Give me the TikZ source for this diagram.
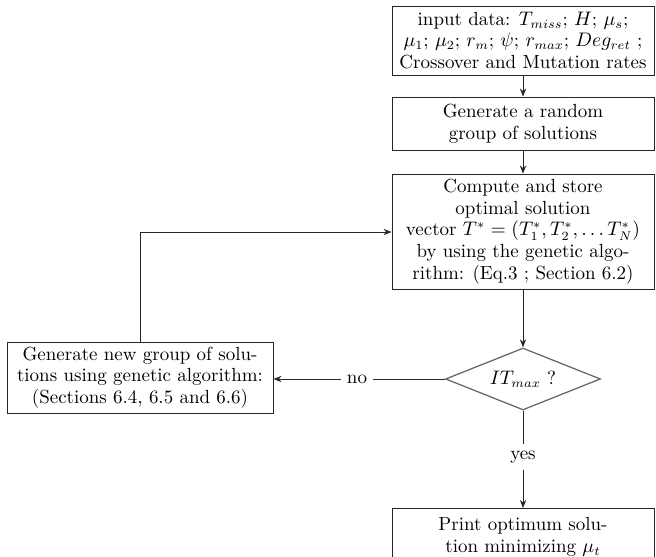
\documentclass[tikz,border=0pt]{standalone}
\usetikzlibrary{shapes.geometric,arrows.meta}
\begin{document}
\begin{tikzpicture}[x=0.5587pt,y=-0.5587pt,
  every node/.style={font=\fontsize{10.6pt}{12.1pt}\selectfont},
  box/.style={draw=black!85,line width=0.5pt,rectangle,align=center,inner sep=0pt},
  dia/.style={draw=black!60,line width=0.7pt,diamond,aspect=2.5,inner sep=0pt},
  conn/.style={draw=black!85,line width=0.5pt,-{Stealth[length=4.5pt,width=3.5pt]}},
  plain/.style={draw=black!85,line width=0.5pt}]
\useasboundingbox (0,0) rectangle (656,557);
\node[box,minimum width=262*0.5587pt,minimum height=69*0.5587pt] (input) at (523,40.5)
  {input data: $T_{miss}$; $H$; $\mu_s$;\\ $\mu_1$; $\mu_2$; $r_m$; $\psi$; $r_{max}$; $Deg_{ret}$ ;\\ Crossover and Mutation rates};
\node[box,minimum width=262*0.5587pt,minimum height=53*0.5587pt] (gen) at (523,123.5)
  {Generate a random\\ group of solutions};
\node[box,minimum width=262*0.5587pt,minimum height=115*0.5587pt] (comp) at (523,231.5)
  {Compute and store\\ optimal solution\\ vector $T^*=(T_1^*,T_2^*,\dots T_N^*)$\\ by using the genetic algo-\\ rithm: (Eq.3 ; Section 6.2)};
\node[dia,minimum width=155*0.5587pt,minimum height=62*0.5587pt] (dec) at (523,379) {$IT_{max}$ ?};
\node[box,minimum width=266*0.5587pt,minimum height=71*0.5587pt] (newgen) at (140,377.5)
  {Generate new group of solu-\\ tions using genetic algorithm:\\ (Sections 6.4, 6.5 and 6.6)};
\node[box,minimum width=262*0.5587pt,minimum height=57*0.5587pt,anchor=north] (print) at (523,508)
  {Print optimum solu-\\ tion minimizing $\mu_t$};
\node (no) at (357,379) {no};
\node (yes) at (523,457) {yes};
\coordinate (corner) at (140,232);
\draw[conn] (input) -- (gen);
\draw[conn] (gen) -- (comp);
\draw[conn] (comp) -- (dec);
\draw[plain] (dec.west) -- (no.east);
\draw[conn] (no.west) -- (no.west -| newgen.east);
\draw[plain] (dec.south) -- (yes.north);
\draw[conn] (yes.south) -- (print.north);
\draw[conn] (newgen.north) -- (corner) -- (corner -| comp.west);
\end{tikzpicture}
\end{document}
